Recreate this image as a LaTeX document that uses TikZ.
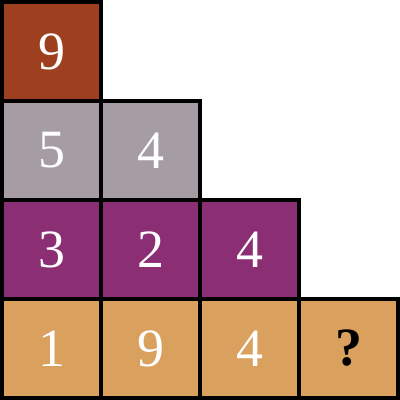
\documentclass[tikz,border=0pt]{standalone}
\usepackage{fontspec}
\setmainfont{Liberation Serif}
\usepackage{tikz}
\usetikzlibrary{positioning}
\definecolor{tilebrown}{RGB}{158, 64, 32}
\definecolor{tilegray}{RGB}{165, 157, 163}
\definecolor{tilepurple}{RGB}{139, 46, 116}
\definecolor{tileorange}{RGB}{218, 160, 94}

\begin{document}
\begin{tikzpicture}[font=\fontsize{15.5}{18}\selectfont,
    tile/.style={rectangle, draw=black, line width=0.9pt, minimum size=1cm, inner sep=0pt, text=white}]
  \useasboundingbox (-0.02, -0.02) rectangle (4.02, 4.02);
  % top row
  \node[tile, fill=tilebrown]  (t1) at (0.5, 3.5) {9};
  % second row
  \node[tile, fill=tilegray]   (s1) at (0.5, 2.5) {5};
  \node[tile, fill=tilegray]   (s2) at (1.5, 2.5) {4};
  % third row
  \node[tile, fill=tilepurple] (p1) at (0.5, 1.5) {3};
  \node[tile, fill=tilepurple] (p2) at (1.5, 1.5) {2};
  \node[tile, fill=tilepurple] (p3) at (2.5, 1.5) {4};
  % bottom row
  \node[tile, fill=tileorange] (o1) at (0.5, 0.5) {1};
  \node[tile, fill=tileorange] (o2) at (1.5, 0.5) {9};
  \node[tile, fill=tileorange] (o3) at (2.5, 0.5) {4};
  \node[tile, fill=tileorange, text=black] (o4) at (3.5, 0.5) {\textbf{?}};
\end{tikzpicture}
\end{document}
